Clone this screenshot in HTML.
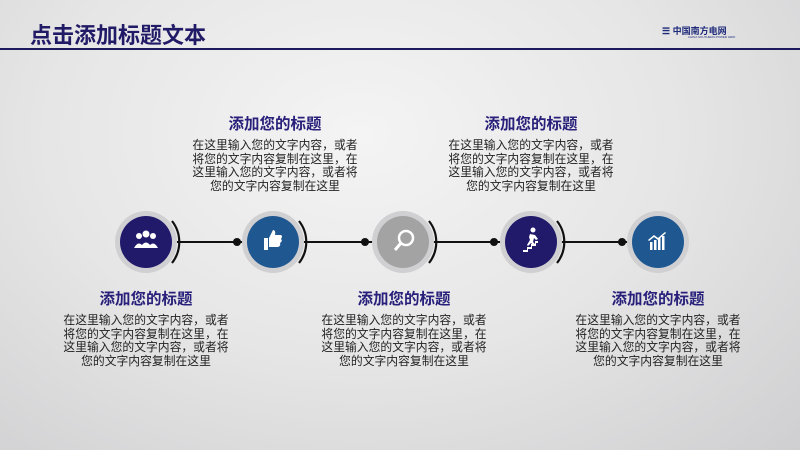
<!DOCTYPE html>
<html><head><meta charset="utf-8"><style>
body{margin:0}
#p{position:relative;width:800px;height:450px;overflow:hidden;background:radial-gradient(ellipse at 45% 30%,#f4f4f4 0%,#e6e6e6 50%,#cfcfd1 100%);font-family:"Liberation Sans","Noto Sans CJK SC",sans-serif}
.h{position:absolute;left:30px;top:18px;font-size:22px;font-weight:bold;color:#211a66;letter-spacing:0px}
.bar{position:absolute;left:0;top:48px;width:800px;height:2px;background:#1e1a5e}
.t{position:absolute;width:180px;text-align:center;color:#28207a;font-weight:bold;font-size:15.5px}
.b{position:absolute;width:180px;text-align:center;color:#222;font-size:11.8px;line-height:13.6px}
</style></head><body><div id="p">
<div class="h">点击添加标题文本</div>
<div class="bar"></div>
<div style="position:absolute;left:662px;top:24px;font-size:9px;font-weight:bold;color:#1e2a7a">☰ 中国南方电网</div>
<div style="position:absolute;left:688px;top:35px;font-size:3px;color:#1e2a7a">CHINA SOUTHERN POWER GRID</div>
<svg width="800" height="450" style="position:absolute;left:0;top:0">
<line x1="177" y1="242" x2="628" y2="242" stroke="#111" stroke-width="2"/>
<g fill="#111"><circle cx="237" cy="242" r="4"/><circle cx="365" cy="242" r="4"/><circle cx="494" cy="242" r="4"/><circle cx="622" cy="242" r="4"/></g>
<g fill="none" stroke="#111" stroke-width="2.2">
<path d="M172 221 A34 34 0 0 1 172 263"/><path d="M299 221 A34 34 0 0 1 299 263"/><path d="M429 221 A34 34 0 0 1 429 263"/><path d="M557 221 A34 34 0 0 1 557 263"/>
</g>
<g fill="#d0d0d2"><circle cx="146" cy="242" r="31"/><circle cx="273" cy="242" r="31"/><circle cx="403" cy="242" r="31"/><circle cx="531" cy="242" r="31"/><circle cx="658" cy="242" r="31"/></g>
<circle cx="146" cy="242" r="26" fill="#211a6b"/>
<circle cx="273" cy="242" r="26" fill="#1f5891"/>
<circle cx="403" cy="242" r="26" fill="#a3a3a3"/>
<circle cx="531" cy="242" r="26" fill="#211a6b"/>
<circle cx="658" cy="242" r="26" fill="#1f5891"/>
<g fill="#fff">
<circle cx="139" cy="236" r="3"/><circle cx="146" cy="234" r="3.5"/><circle cx="153" cy="236" r="3"/>
<path d="M134 248 Q139 239 144 248Z M140 248 Q146 237 152 248Z M148 248 Q153 239 158 248Z"/>
<path d="M264 238 h4 v12 h-4z M269 238 l4 -8 q3 0 2 5 h6 q2 1 0 4 q2 2 -1 4 q1 3 -2 4 h-9z"/>
<path d="M523 250 h4 v-3 h4 v-3 h4 v-3 h3 v2 h-2 v3 h-4 v3 h-4 v3 h-5z"/><circle cx="533" cy="230" r="2.5"/>
<path d="M530 234 l5 1 l3 4 l-2 1 l-2 -2 l-1 4 l3 3 l-2 1 l-3 -3 l-3 3 l-1 -1 l3 -5 l-1 -3 z"/>
<rect x="650" y="242" width="2.5" height="8"/><rect x="654" y="240" width="2.5" height="10"/><rect x="658" y="238" width="2.5" height="12"/><rect x="662" y="236" width="2.5" height="14"/>
<path d="M648 240 l6 -5 l4 3 l7 -6 l1 1 l-8 7 l-4 -3 l-5 4z"/>
</g>
<circle cx="406" cy="238" r="7" fill="none" stroke="#fff" stroke-width="2.5"/>
<line x1="401" y1="243" x2="395" y2="250" stroke="#fff" stroke-width="3"/>
</svg>
<div class="t" style="left:185px;top:112px">添加您的标题</div>
<div class="b" style="left:185px;top:139px">在这里输入您的文字内容，或者<br>将您的文字内容复制在这里，在<br>这里输入您的文字内容，或者将<br>您的文字内容复制在这里</div>
<div class="t" style="left:441px;top:112px">添加您的标题</div>
<div class="b" style="left:441px;top:139px">在这里输入您的文字内容，或者<br>将您的文字内容复制在这里，在<br>这里输入您的文字内容，或者将<br>您的文字内容复制在这里</div>
<div class="t" style="left:56px;top:287px">添加您的标题</div>
<div class="b" style="left:56px;top:314px">在这里输入您的文字内容，或者<br>将您的文字内容复制在这里，在<br>这里输入您的文字内容，或者将<br>您的文字内容复制在这里</div>
<div class="t" style="left:314px;top:287px">添加您的标题</div>
<div class="b" style="left:314px;top:314px">在这里输入您的文字内容，或者<br>将您的文字内容复制在这里，在<br>这里输入您的文字内容，或者将<br>您的文字内容复制在这里</div>
<div class="t" style="left:568px;top:287px">添加您的标题</div>
<div class="b" style="left:568px;top:314px">在这里输入您的文字内容，或者<br>将您的文字内容复制在这里，在<br>这里输入您的文字内容，或者将<br>您的文字内容复制在这里</div>
</div></body></html>
